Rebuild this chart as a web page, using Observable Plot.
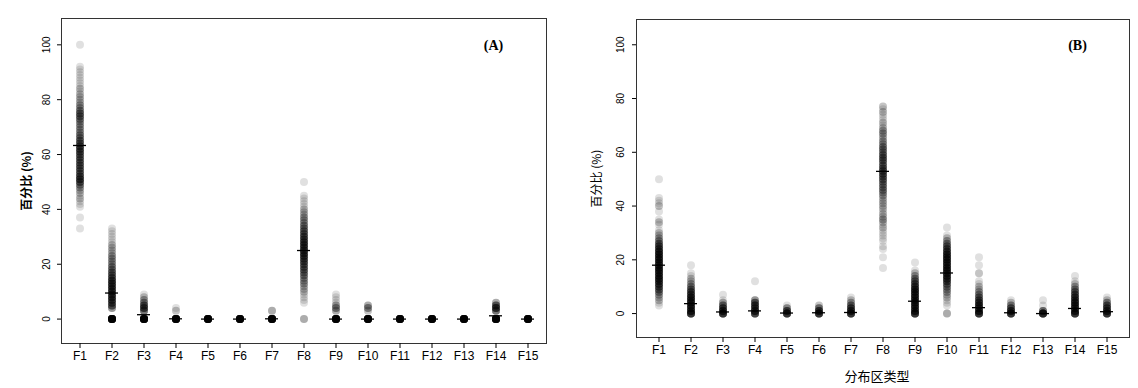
<!DOCTYPE html>
<html>
<head>
<meta charset="utf-8">
<script src="https://cdn.jsdelivr.net/npm/d3@7"></script>
<script src="https://cdn.jsdelivr.net/npm/@observablehq/plot@0.6"></script>
<style>
  html, body { margin: 0; padding: 0; background: #fff; }
  #wrap { display: flex; width: 1138px; height: 388px; }
</style>
</head>
<body>
<div id="wrap"></div>
<script>
const categories = ["F1","F2","F3","F4","F5","F6","F7","F8","F9","F10","F11","F12","F13","F14","F15"];
const yTicks = [0, 20, 40, 60, 80, 100];
const panelLabels = ["(A)", "(B)"];
const yTitle = "百分比 (%)";
const xTitle = "分布区类型";

// mean (horizontal dash) for each category
const meansA = [63.3, 9.5, 1.6, 0.1, 0, 0, 0.1, 25, 0, 0, 0, 0, 0, 1.2, 0];
const meansB = [18, 3.7, 0.6, 1, 0.2, 0.3, 0.4, 52.9, 4.6, 15.1, 2.2, 0.3, 0, 1.9, 0.7];

// observed percentages per category as [value, number of overlapping points]
const pointsA = [
  [[100,1],[92,1],[91,1],[90,1],[89,1],[88,1],[87,1],[86,1],[85,1],[84,2],[83,1],[82,2],[81,2],[80,2],[79,2],[78,3],[77,3],[76,4],[75,5],[74,5],[73,4],[72,3],[71,3],[70,3],[69,3],[68,3],[67,4],[66,4],[65,5],[64,5],[63,6],[62,6],[61,6],[60,5],[59,5],[58,5],[57,5],[56,5],[55,5],[54,5],[53,5],[52,6],[51,7],[50,6],[49,4],[48,3],[47,2],[46,2],[45,1],[44,2],[43,1],[42,1],[41,1],[37,1],[33,1]],
  [[33,1],[32,1],[31,1],[30,1],[29,1],[28,1],[27,2],[26,2],[25,2],[24,2],[23,3],[22,3],[21,3],[20,3],[19,4],[18,4],[17,5],[16,5],[15,6],[14,7],[13,7],[12,7],[11,7],[10,7],[9,7],[8,7],[7,7],[6,6],[5,6],[4,4],[0,30]],
  [[9,1],[8,2],[7,3],[6,4],[5,6],[4,7],[3,6],[0,30]],
  [[4,1],[3,2],[0,30]],
  [[0,30]],
  [[0,30]],
  [[3,3],[0,30]],
  [[50,1],[45,1],[44,1],[43,1],[42,1],[41,1],[40,2],[39,2],[38,2],[37,3],[36,3],[35,3],[34,4],[33,4],[32,5],[31,5],[30,6],[29,6],[28,7],[27,7],[26,7],[25,7],[24,7],[23,7],[22,6],[21,6],[20,5],[19,5],[18,5],[17,4],[16,4],[15,3],[14,3],[13,3],[12,2],[11,2],[10,2],[9,1],[8,1],[7,1],[6,1],[0,3]],
  [[9,1],[8,1],[7,1],[6,1],[5,3],[4,4],[3,3],[0,30]],
  [[5,3],[4,4],[3,2],[0,30]],
  [[0,30]],
  [[0,30]],
  [[0,30]],
  [[6,3],[5,6],[4,8],[3,6],[0,30]],
  [[0,30]]
];

const pointsB = [
  [[50,1],[43,1],[42,1],[41,1],[40,2],[38,1],[35,1],[34,2],[33,1],[31,1],[30,2],[29,2],[28,3],[27,4],[26,5],[25,6],[24,7],[23,8],[22,8],[21,8],[20,8],[19,8],[18,8],[17,8],[16,8],[15,8],[14,8],[13,8],[12,7],[11,7],[10,6],[9,5],[8,4],[7,3],[6,2],[5,2],[4,1],[3,1]],
  [[18,1],[15,1],[14,1],[13,2],[12,2],[11,3],[10,4],[9,5],[8,6],[7,7],[6,8],[5,8],[4,8],[3,8],[2,8],[1,8],[0,12]],
  [[7,1],[5,1],[4,3],[3,5],[2,7],[1,8],[0,12]],
  [[12,1],[5,4],[4,6],[3,7],[2,7],[1,8],[0,10]],
  [[3,1],[2,4],[1,7],[0,12]],
  [[3,2],[2,5],[1,8],[0,12]],
  [[6,1],[5,2],[4,3],[3,5],[2,7],[1,8],[0,12]],
  [[77,2],[76,1],[75,2],[74,1],[73,1],[72,1],[71,2],[70,1],[69,2],[68,3],[67,3],[66,2],[65,2],[64,3],[63,3],[62,4],[61,4],[60,4],[59,5],[58,5],[57,5],[56,4],[55,5],[54,5],[53,6],[52,6],[51,5],[50,5],[49,4],[48,4],[47,4],[46,4],[45,3],[44,3],[43,2],[42,2],[41,2],[40,2],[39,2],[38,1],[37,2],[36,2],[35,3],[34,2],[33,1],[32,2],[31,1],[30,1],[29,1],[28,1],[27,1],[25,1],[24,1],[21,1],[17,1]],
  [[19,1],[16,1],[15,2],[14,3],[13,4],[12,5],[11,6],[10,7],[9,8],[8,8],[7,8],[6,8],[5,8],[4,8],[3,8],[2,8],[1,8],[0,12]],
  [[32,1],[29,1],[28,2],[27,3],[26,4],[25,5],[24,6],[23,7],[22,8],[21,8],[20,8],[19,8],[18,8],[17,8],[16,8],[15,8],[14,8],[13,7],[12,6],[11,5],[10,4],[9,3],[8,3],[7,2],[6,2],[5,1],[4,1],[3,1],[0,3]],
  [[21,1],[18,1],[15,2],[12,1],[11,1],[10,2],[9,2],[8,3],[7,4],[6,5],[5,6],[4,7],[3,8],[2,8],[1,8],[0,12]],
  [[5,1],[4,2],[3,4],[2,6],[1,8],[0,12]],
  [[5,1],[3,1],[1,6],[0,14]],
  [[14,1],[12,1],[11,2],[10,3],[9,4],[8,5],[7,6],[6,7],[5,7],[4,8],[3,8],[2,8],[1,8],[0,12]],
  [[6,1],[5,2],[4,4],[3,6],[2,7],[1,8],[0,12]]
];

function expand(points) {
  const rows = [];
  points.forEach((list, i) => {
    for (const [v, c] of list) for (let k = 0; k < c; k++) rows.push({cat: categories[i], v});
  });
  return rows;
}
function meanRows(means) {
  return means.map((m, i) => ({cat: categories[i], m}));
}

function panel(cfg) {
  return Plot.plot({
    width: cfg.width,
    height: 388,
    marginLeft: cfg.ml,
    marginRight: cfg.mr,
    marginTop: cfg.mt,
    marginBottom: cfg.mb,
    style: {fontFamily: "'Liberation Sans', Arial, sans-serif", fontSize: "12px", color: "#000", background: "#fff"},
    x: {domain: categories, paddingInner: 0.6, paddingOuter: 0.36, label: null, axis: null},
    y: {domain: cfg.ydomain, label: null, axis: null},
    marks: [
      Plot.frame({stroke: "#333"}),
      Plot.axisX({tickSize: 5, tickPadding: 3, label: null, fontSize: 12}),
      Plot.axisY(yTicks, {tickSize: 4, tickFormat: () => "", label: null}),
      Plot.text(yTicks, {y: d => d, text: d => String(d), frameAnchor: "left", dx: cfg.tickDx, rotate: -90,
        textAnchor: "middle", lineAnchor: "middle", fontSize: 10, fill: "#000"}),
      Plot.dot(expand(cfg.points), {x: "cat", y: "v", r: 4, fill: "black", fillOpacity: 0.12, stroke: "none"}),
      Plot.tickY(meanRows(cfg.means), {x: "cat", y: "m", stroke: "black", strokeWidth: 1.3}),
      Plot.text([yTitle], {text: d => d, frameAnchor: "left", dx: cfg.titleDx, rotate: -90, textAnchor: "middle",
        lineAnchor: "middle", fontSize: 12, fontWeight: cfg.titleWeight, fontFamily: "'Noto Sans CJK SC', sans-serif", fill: "#000"}),
      Plot.text([cfg.tag], {text: d => d, frameAnchor: "top-right", dx: cfg.tagDx, dy: cfg.tagDy, textAnchor: "middle",
        lineAnchor: "middle", fontSize: 14, fontWeight: "bold", fontFamily: "'Liberation Serif', 'Times New Roman', serif", fill: "#000"}),
      ...(cfg.xTitle ? [Plot.text([cfg.xTitle], {text: d => d, frameAnchor: "bottom", dx: -6, dy: 39.5, textAnchor: "middle",
        lineAnchor: "middle", fontSize: 13, fontFamily: "'Noto Sans CJK SC', sans-serif", fill: "#000"})] : [])
    ]
  });
}

const wrap = document.getElementById("wrap");
wrap.append(panel({
  width: 565, ml: 61, mr: 19, mt: 18, mb: 45, ydomain: [-8.9, 109.6],
  points: pointsA, means: meansA, tickDx: -14.3, titleDx: -34, titleWeight: "bold",
  tag: panelLabels[0], tagDx: -53, tagDy: 27, xTitle: null
}));
wrap.append(panel({
  width: 573, ml: 71, mr: 9, mt: 19, mb: 51, ydomain: [-8.9, 109.4],
  points: pointsB, means: meansB, tickDx: -15.7, titleDx: -39, titleWeight: "normal",
  tag: panelLabels[1], tagDx: -52, tagDy: 26.5, xTitle: xTitle
}));
</script>
</body>
</html>
